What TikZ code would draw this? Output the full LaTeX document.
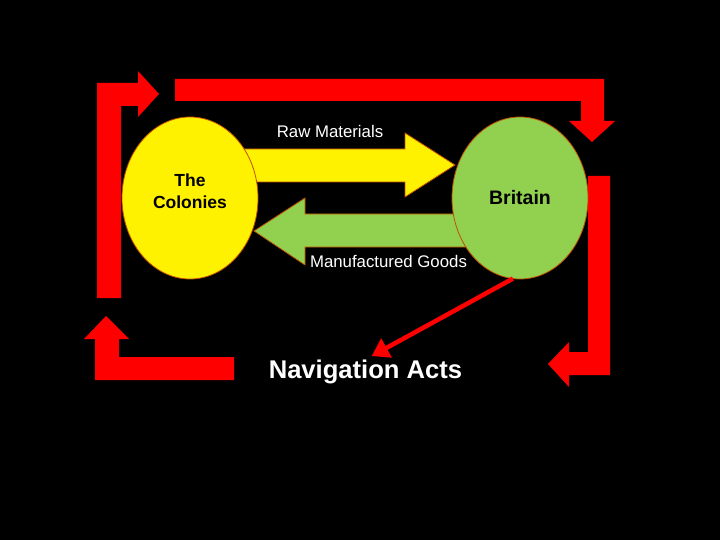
\documentclass[tikz,border=0pt]{standalone}
\usepackage{fontspec}
\setmainfont{Liberation Sans}
\usepackage{xcolor}
\usepackage{tikz}
\usetikzlibrary{arrows.meta,shapes.geometric}
\definecolor{leafgreen}{RGB}{146,208,80}
\definecolor{rimbrown}{RGB}{192,80,0}
\begin{document}
\begin{tikzpicture}[x=1pt,y=-1pt,every node/.style={inner sep=0pt,outer sep=0pt},
  land/.style={ellipse,draw=rimbrown,line width=.8pt,minimum width=136pt,minimum height=162pt},
  flow/.style={draw=rimbrown,line width=.8pt},
  lbl/.style={text=white,font=\fontsize{16.8}{20}\selectfont,anchor=base},
  bold/.style={font=\bfseries\fontsize{17.5}{22}\selectfont,align=center}]
\fill[black] (0,0) rectangle (720,540);
% red loop round the trade
\fill[red] (97,298) -- (97,83) -- (138,83) -- (138,71) -- (159,94) -- (138,117) -- (138,106) -- (121,106) -- (121,298) -- cycle;%
\fill[red] (175,79) -- (604,79) -- (604,121) -- (615,121) -- (592,142) -- (569,121) -- (581,121) -- (581,101) -- (175,101) -- cycle;%
\fill[red] (610,176) -- (610,375) -- (569,375) -- (569,387) -- (548,364) -- (569,342) -- (569,352) -- (588,352) -- (588,176) -- cycle;%
\fill[red] (234,357) -- (234,380) -- (95,380) -- (95,339) -- (84,339) -- (106,316) -- (129,339) -- (119,339) -- (119,357) -- cycle;%
% goods going both ways
\draw[flow,fill=yellow] (230,149) -- (405,149) -- (405,133) -- (455,165) -- (405,197) -- (405,182) -- (230,182) -- cycle;%
\draw[flow,fill=leafgreen] (480,214) -- (305,214) -- (305,198) -- (254,231) -- (305,265) -- (305,247) -- (480,247) -- cycle;%
\node[land,fill=yellow] (C) at (190,198) {};
\node[land,fill=leafgreen,font=\bfseries\fontsize{19.5}{22}\selectfont] (B) at (520,198) {Britain};
\node[bold] (Ct) at (190,191) {The\\Colonies};
\node[lbl] (R) at (330,138) {Raw Materials};
\node[lbl] (M) at (388.5,267) {Manufactured Goods};
\node[text=white,font=\bfseries\fontsize{25.6}{30}\selectfont,anchor=base] (N) at (365.5,378) {Navigation Acts};
\draw[red,line width=4.5pt,shorten >=7pt,-{Triangle[length=17pt,width=21pt]}] (B.265) -- (N.north);%
\end{tikzpicture}
\end{document}
